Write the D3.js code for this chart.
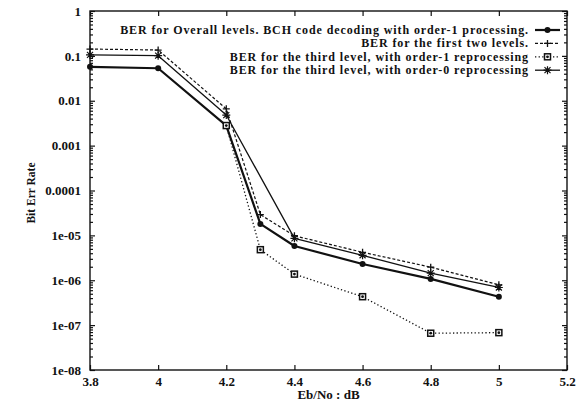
<!DOCTYPE html>
<html>
<head>
<meta charset="utf-8">
<script src="https://cdn.jsdelivr.net/npm/d3@7"></script>
<style>
  html, body { margin: 0; padding: 0; background: #fff; }
  svg text { font-family: "Liberation Serif", "DejaVu Serif", serif; font-weight: bold; fill: #111; }
</style>
</head>
<body>
<svg id="chart" width="585" height="407"></svg>
<script>
// Eb/No sample points (dB)
const ebnoFull = [3.8, 4, 4.2, 4.3, 4.4, 4.6, 4.8, 5];
const ebnoThirdOrder1 = [4.2, 4.3, 4.4, 4.6, 4.8, 5];
const ebnoThirdOrder0 = [3.8, 4, 4.2, 4.4, 4.6, 4.8, 5];

// Bit error rates
const berOverall = [0.057, 0.053, 0.0028, 1.8e-5, 5.8e-6, 2.3e-6, 1.07e-6, 4.3e-7];
const berFirstTwo = [0.142, 0.135, 0.0066, 2.9e-5, 9.8e-6, 4.2e-6, 1.96e-6, 7.9e-7];
const berThirdOrder1 = [0.0028, 4.8e-6, 1.37e-6, 4.3e-7, 6.6e-8, 6.8e-8];
const berThirdOrder0 = [0.105, 0.101, 0.0048, 8.6e-6, 3.6e-6, 1.44e-6, 6.9e-7];

const seriesNames = [
  "BER for Overall levels. BCH code decoding with order-1 processing.",
  "BER for the first two levels.",
  "BER for the third level, with order-1 reprocessing",
  "BER for the third level, with order-0 reprocessing"
];

const xTicks = [3.8, 4, 4.2, 4.4, 4.6, 4.8, 5, 5.2];
const yTicks = [1, 0.1, 0.01, 0.001, 0.0001, 1e-5, 1e-6, 1e-7, 1e-8];
const yTickLabels = ["1", "0.1", "0.01", "0.001", "0.0001", "1e-05", "1e-06", "1e-07", "1e-08"];

const svg = d3.select("#chart");
const plotLeft = 90, plotRight = 567, plotTop = 11, plotBottom = 370;

const x = d3.scaleLinear().domain([3.8, 5.2]).range([plotLeft, plotRight]);
const y = d3.scaleLog().domain([1e-8, 1]).range([plotBottom, plotTop]);

// minor log ticks
const minorY = [];
for (let e = -8; e < 0; e++) {
  for (let m = 2; m <= 9; m++) minorY.push(m * Math.pow(10, e));
}

const axisG = svg.append("g");

// bottom / top axes with inward ticks
axisG.append("g")
  .attr("transform", `translate(0,${plotBottom})`)
  .call(d3.axisBottom(x).tickValues(xTicks).tickSize(-5).tickPadding(7)
    .tickFormat(d => d3.format("")(d)))
  .call(g => g.select(".domain").remove());
axisG.append("g")
  .attr("transform", `translate(0,${plotTop})`)
  .call(d3.axisTop(x).tickValues(xTicks).tickSize(-5).tickFormat(""))
  .call(g => g.select(".domain").remove());

// left / right axes with inward ticks
axisG.append("g")
  .attr("transform", `translate(${plotLeft},0)`)
  .call(d3.axisLeft(y).tickValues(yTicks).tickSize(-5).tickPadding(9)
    .tickFormat((d, i) => yTickLabels[i]))
  .call(g => g.select(".domain").remove());
axisG.append("g")
  .attr("transform", `translate(${plotLeft},0)`)
  .call(d3.axisLeft(y).tickValues(minorY).tickSize(-3).tickFormat(""))
  .call(g => g.select(".domain").remove());
axisG.append("g")
  .attr("transform", `translate(${plotRight},0)`)
  .call(d3.axisRight(y).tickValues(yTicks).tickSize(-5).tickFormat(""))
  .call(g => g.select(".domain").remove());
axisG.append("g")
  .attr("transform", `translate(${plotRight},0)`)
  .call(d3.axisRight(y).tickValues(minorY).tickSize(-3).tickFormat(""))
  .call(g => g.select(".domain").remove());

axisG.selectAll(".tick line").attr("stroke", "#111").attr("stroke-width", 1.2);
axisG.selectAll(".tick text").attr("font-size", 13);

// frame
svg.append("rect")
  .attr("x", plotLeft).attr("y", plotTop)
  .attr("width", plotRight - plotLeft).attr("height", plotBottom - plotTop)
  .attr("fill", "none").attr("stroke", "#111").attr("stroke-width", 1.4);

// axis titles
svg.append("text")
  .attr("x", (plotLeft + plotRight) / 2).attr("y", 399)
  .attr("text-anchor", "middle").attr("font-size", 13)
  .text("Eb/No : dB");
svg.append("text")
  .attr("transform", "translate(35,193) rotate(-90)")
  .attr("text-anchor", "middle").attr("font-size", 11.5)
  .text("Bit Err Rate");

// marker painters
function drawMarker(g, kind, cx, cy) {
  if (kind === "dot") {
    g.append("circle").attr("cx", cx).attr("cy", cy).attr("r", 3).attr("fill", "#111");
  } else if (kind === "plus") {
    g.append("path").attr("d", `M${cx - 3.5},${cy}H${cx + 3.5}M${cx},${cy - 3.5}V${cy + 3.5}`)
      .attr("stroke", "#111").attr("stroke-width", 1.3);
  } else if (kind === "square") {
    g.append("rect").attr("x", cx - 3).attr("y", cy - 3).attr("width", 6).attr("height", 6)
      .attr("fill", "#fff").attr("stroke", "#111").attr("stroke-width", 1.5);
    g.append("circle").attr("cx", cx).attr("cy", cy).attr("r", 1.4).attr("fill", "#111");
  } else if (kind === "star") {
    const r = 4;
    let d = `M${cx - r},${cy}H${cx + r}M${cx},${cy - r}V${cy + r}`;
    const k = r * 0.75;
    d += `M${cx - k},${cy - k}L${cx + k},${cy + k}M${cx - k},${cy + k}L${cx + k},${cy - k}`;
    g.append("path").attr("d", d).attr("stroke", "#111").attr("stroke-width", 1.2);
  }
}

const series = [
  { name: seriesNames[0], xs: ebnoFull, ys: berOverall, width: 2.2, dash: null, marker: "dot" },
  { name: seriesNames[1], xs: ebnoFull, ys: berFirstTwo, width: 1.2, dash: "3,2", marker: "plus" },
  { name: seriesNames[2], xs: ebnoThirdOrder1, ys: berThirdOrder1, width: 1.3, dash: "1.3,2.3", marker: "square" },
  { name: seriesNames[3], xs: ebnoThirdOrder0, ys: berThirdOrder0, width: 1.3, dash: null, marker: "star" }
];

const line = d3.line().x(d => x(d[0])).y(d => y(d[1]));

series.forEach(s => {
  const pts = s.xs.map((v, i) => [v, s.ys[i]]);
  const g = svg.append("g");
  g.append("path").datum(pts)
    .attr("d", line)
    .attr("fill", "none").attr("stroke", "#111")
    .attr("stroke-width", s.width)
    .attr("stroke-dasharray", s.dash)
    .attr("stroke-linejoin", "round");
  pts.forEach(p => drawMarker(g, s.marker, x(p[0]), y(p[1])));
});

// legend
const legendRight = 529;
const legend = svg.append("g");
series.forEach((s, i) => {
  const ly = 30 + i * 13.4;
  legend.append("text")
    .attr("x", legendRight).attr("y", ly + 4)
    .attr("text-anchor", "end").attr("font-size", 12)
    .attr("letter-spacing", "0.9px")
    .text(s.name);
  legend.append("line")
    .attr("x1", 535).attr("x2", 560).attr("y1", ly).attr("y2", ly)
    .attr("stroke", "#111").attr("stroke-width", s.width)
    .attr("stroke-dasharray", s.dash);
  drawMarker(legend, s.marker, 547.5, ly);
});
</script>
</body>
</html>
